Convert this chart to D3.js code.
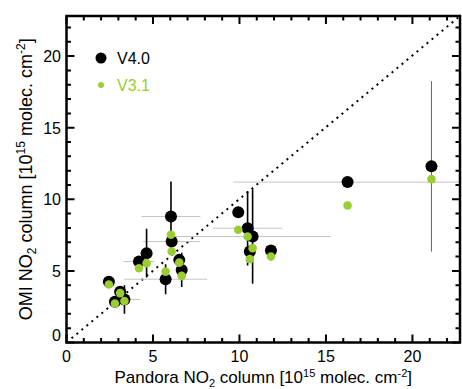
<!DOCTYPE html>
<html>
<head>
<meta charset="utf-8">
<script src="https://cdn.jsdelivr.net/npm/d3@7"></script>
<style>
  body { margin: 0; background: #fff; }
  svg { display: block; font-family: 'Liberation Sans', Arial, sans-serif; }
</style>
</head>
<body>
<div id="chart"></div>
<script>
// Pandora vs OMI NO2 columns, 10^15 molec. cm^-2
const pandora = [2.45, 3.1, 3.35, 2.8, 4.19, 4.63, 5.73, 6.04, 6.08, 6.52, 6.66, 9.93, 10.47, 10.76, 10.6, 11.82, 16.25, 21.1];
const omiV40 = [4.25, 3.55, 3.0, 2.85, 5.65, 6.24, 4.42, 8.8, 7.05, 5.77, 5.07, 9.1, 7.98, 7.4, 6.35, 6.42, 11.2, 12.3];
const omiV31 = [4.05, 3.45, 2.9, 2.72, 5.19, 5.54, 4.95, 7.52, 6.35, 5.58, 4.65, 7.87, 7.4, 6.59, 5.82, 6.0, 9.57, 11.41];
const pandoraErr = [0, 0, 0.9, 0, 0.9, 0, 2.4, 1.7, 1.65, 0, 0, 0, 2.0, 4.5, 0, 0, 6.6, 0];
const omiErr = [0, 0, 1.0, 0, 0, 1.7, 1.05, 2.45, 0, 0, 1.2, 0, 2.6, 3.3, 0, 0, 0, 5.95];
const xTicks = [0, 5, 10, 15, 20];
const yTicks = [0, 5, 10, 15, 20];
const legendItems = ['V4.0', 'V3.1'];

const green = '#9acd32';
const width = 462, height = 389;

const x = d3.scaleLinear().domain([0, 22.75]).range([66.5, 460]);
const y = d3.scaleLinear().domain([0, 22.8]).range([342.5, 16]);

const svg = d3.select('#chart').append('svg')
  .attr('width', width)
  .attr('height', height);

svg.append('clipPath').attr('id', 'plot-clip')
  .append('rect')
  .attr('x', x(0)).attr('y', y(22.8))
  .attr('width', x(22.75) - x(0)).attr('height', y(0) - y(22.8));

const plot = svg.append('g').attr('clip-path', 'url(#plot-clip)');

// 1:1 line
plot.append('line')
  .attr('x1', x(0)).attr('y1', y(0))
  .attr('x2', x(22.75)).attr('y2', y(22.8))
  .attr('stroke', '#000')
  .attr('stroke-width', 2)
  .attr('stroke-dasharray', '2,4.5');

const pts = pandora.map((p, i) => ({ p, v4: omiV40[i], v3: omiV31[i], px: pandoraErr[i], oy: omiErr[i] }));

// horizontal error bars (Pandora)
plot.selectAll('.xerr')
  .data(pts.filter(d => d.px > 0))
  .join('line')
  .attr('x1', d => x(d.p - d.px)).attr('x2', d => x(d.p + d.px))
  .attr('y1', d => y(d.v4)).attr('y2', d => y(d.v4))
  .attr('stroke', '#c4c4c4')
  .attr('stroke-width', 1);

// vertical error bars (OMI)
plot.selectAll('.yerr')
  .data(pts.filter(d => d.oy > 0))
  .join('line')
  .attr('x1', d => x(d.p)).attr('x2', d => x(d.p))
  .attr('y1', d => y(d.v4 - d.oy)).attr('y2', d => y(d.v4 + d.oy))
  .attr('stroke', d => d.oy > 5 ? '#666' : '#000')
  .attr('stroke-width', d => d.oy > 5 ? 1 : 1.6);

plot.selectAll('.v4')
  .data(pts)
  .join('circle')
  .attr('cx', d => x(d.p)).attr('cy', d => y(d.v4))
  .attr('r', 6)
  .attr('fill', '#000');

plot.selectAll('.v3')
  .data(pts)
  .join('circle')
  .attr('cx', d => x(d.p)).attr('cy', d => y(d.v3))
  .attr('r', 4.3)
  .attr('fill', green);

// frame + ticks on all four sides
const frame = svg.append('g').attr('stroke', '#000');
frame.append('rect')
  .attr('x', x(0)).attr('y', y(22.8))
  .attr('width', x(22.75) - x(0)).attr('height', y(0) - y(22.8))
  .attr('fill', 'none')
  .attr('stroke-width', 2.5);

const minor = d3.range(0, 23, 1);
const tickLen = v => v % 5 === 0 ? 8 : 4.5;

frame.selectAll('.tb')
  .data(minor.filter(v => v <= 22.75))
  .join('path')
  .attr('stroke-width', 2)
  .attr('d', v => `M${x(v)},${y(0)}v${-tickLen(v)}M${x(v)},${y(22.8)}v${tickLen(v)}`);

frame.selectAll('.tl')
  .data(minor.filter(v => v <= 22.8))
  .join('path')
  .attr('stroke-width', 2)
  .attr('d', v => `M${x(0)},${y(v)}h${tickLen(v)}M${x(22.75)},${y(v)}h${-tickLen(v)}`);

// tick labels
svg.selectAll('.xl')
  .data(xTicks)
  .join('text')
  .attr('x', d => x(d)).attr('y', 362)
  .attr('text-anchor', 'middle')
  .attr('font-size', 16)
  .text(d => d);

svg.selectAll('.yl')
  .data(yTicks)
  .join('text')
  .attr('x', 61).attr('y', d => d === 0 ? y(d) - 1.5 : y(d) + 6)
  .attr('text-anchor', 'end')
  .attr('font-size', 16)
  .text(d => d);

// axis titles
const xTitle = svg.append('text')
  .attr('x', (x(0) + x(22.75)) / 2).attr('y', 383)
  .attr('text-anchor', 'middle')
  .attr('font-size', 17);
xTitle.append('tspan').text('Pandora NO');
xTitle.append('tspan').attr('font-size', 11).attr('dy', 4).text('2');
xTitle.append('tspan').attr('dy', -4).text(' column [10');
xTitle.append('tspan').attr('font-size', 11).attr('dy', -6).text('15');
xTitle.append('tspan').attr('dy', 6).text(' molec. cm');
xTitle.append('tspan').attr('font-size', 11).attr('dy', -6).text('-2');
xTitle.append('tspan').attr('dy', 6).text(']');

const yTitle = svg.append('text')
  .attr('transform', `translate(32,${(y(0) + y(22.8)) / 2}) rotate(-90)`)
  .attr('text-anchor', 'middle')
  .attr('font-size', 18);
yTitle.append('tspan').text('OMI NO');
yTitle.append('tspan').attr('font-size', 12).attr('dy', 4).text('2');
yTitle.append('tspan').attr('dy', -4).text(' column [10');
yTitle.append('tspan').attr('font-size', 12).attr('dy', -7).text('15');
yTitle.append('tspan').attr('dy', 7).text(' molec. cm');
yTitle.append('tspan').attr('font-size', 12).attr('dy', -7).text('-2');
yTitle.append('tspan').attr('dy', 7).text(']');

// legend
const legend = svg.append('g');
legend.selectAll('circle')
  .data(legendItems)
  .join('circle')
  .attr('cx', 101).attr('cy', (d, i) => 58 + i * 27)
  .attr('r', (d, i) => i === 0 ? 5.5 : 3)
  .attr('fill', (d, i) => i === 0 ? '#000' : green);
legend.selectAll('text')
  .data(legendItems)
  .join('text')
  .attr('x', 117).attr('y', (d, i) => 64 + i * 27)
  .attr('font-size', 16)
  .attr('fill', (d, i) => i === 0 ? '#000' : green)
  .text(d => d);
</script>
</body>
</html>
